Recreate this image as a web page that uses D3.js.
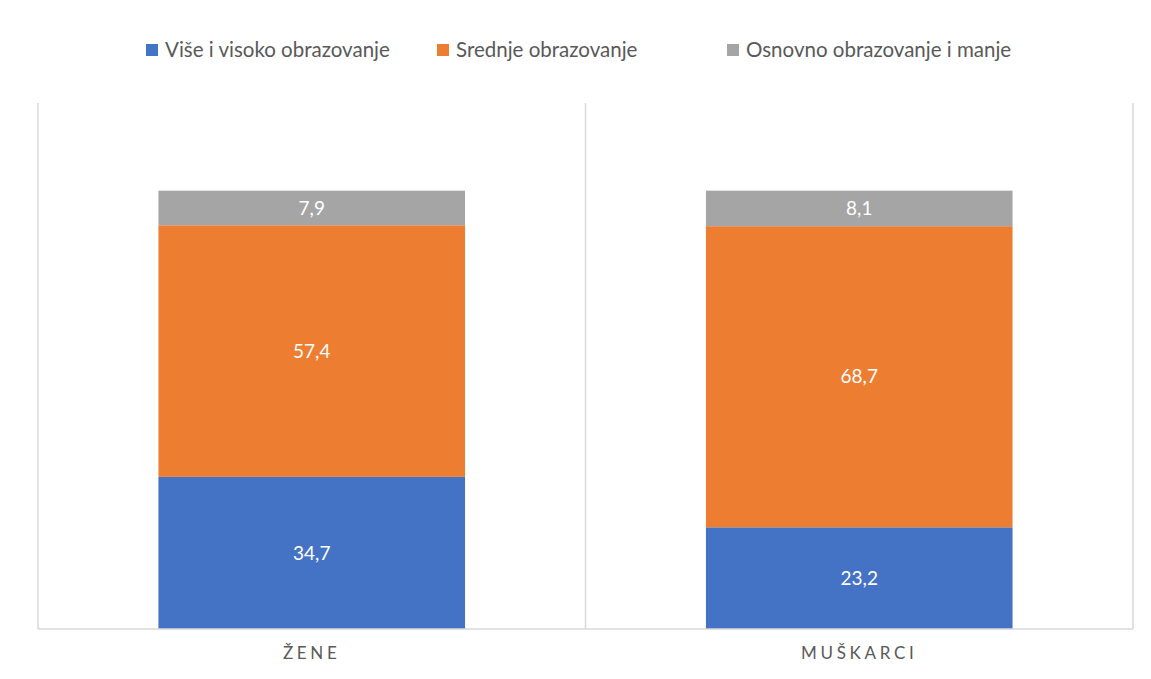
<!DOCTYPE html>
<html>
<head>
<meta charset="utf-8">
<script src="https://cdn.jsdelivr.net/npm/d3@7"></script>
<style>
  body { margin: 0; background: #fff; }
  text { font-family: Lato, "Open Sans", sans-serif; }
</style>
</head>
<body>
<svg id="chart" width="1151" height="679"></svg>
<script>
// data
var categories = ["ŽENE", "MUŠKARCI"];
var series = ["Više i visoko obrazovanje", "Srednje obrazovanje", "Osnovno obrazovanje i manje"];
var visoko = [34.7, 23.2];
var srednje = [57.4, 68.7];
var osnovno = [7.9, 8.1];
var colors = ["#4472C4", "#ED7D31", "#A5A5A5"];

var svg = d3.select("#chart");

var pLeft = 38, pRight = 1133, pTop = 103, pBottom = 629;

var x = d3.scaleBand()
    .domain(categories)
    .range([pLeft, pRight])
    .paddingInner(0.44)
    .paddingOuter(0.22);

var xOuter = d3.scaleBand()
    .domain(categories)
    .range([pLeft, pRight]);

var y = d3.scaleLinear()
    .domain([0, 120])
    .range([pBottom, pTop]);

// build stacked rows
var rows = categories.map(function(c, i) {
    return { cat: c, v0: visoko[i], v1: srednje[i], v2: osnovno[i] };
});
var stack = d3.stack().keys(["v0", "v1", "v2"]);
var layers = stack(rows);

// separators
var seps = categories.map(function(c) { return xOuter(c); }).concat([pRight]);
svg.selectAll(".sep")
    .data(seps)
    .enter()
    .append("line")
    .attr("class", "sep")
    .attr("x1", d => d)
    .attr("x2", d => d)
    .attr("y1", pTop)
    .attr("y2", pBottom)
    .attr("stroke", "#d9d9d9")
    .attr("stroke-width", 1.5);

// bars
var g = svg.selectAll(".layer")
    .data(layers)
    .enter()
    .append("g")
    .attr("class", "layer")
    .attr("fill", (d, i) => colors[i]);

g.selectAll("rect")
    .data(d => d)
    .enter()
    .append("rect")
    .attr("x", d => x(d.data.cat))
    .attr("width", x.bandwidth())
    .attr("y", d => y(d[1]))
    .attr("height", d => y(d[0]) - y(d[1]));

// labels
g.selectAll(".lbl")
    .data(d => d.map(function(p) { return { p: p, v: p[1] - p[0] }; }))
    .enter()
    .append("text")
    .attr("class", "lbl")
    .attr("x", d => x(d.p.data.cat) + x.bandwidth() / 2)
    .attr("y", d => (y(d.p[0]) + y(d.p[1])) / 2)
    .attr("dy", "0.35em")
    .attr("text-anchor", "middle")
    .attr("fill", "#ffffff")
    .style("font-size", "19px")
    .text(d => d3.format(".1f")(d.v).replace(".", ","));

// x axis
var ax = d3.axisBottom(x).tickSize(0).tickPadding(18);
var axg = svg.append("g")
    .attr("transform", "translate(0," + pBottom + ")")
    .call(ax);
axg.select(".domain")
    .attr("d", "M" + pLeft + ",0H" + pRight)
    .attr("stroke", "#d9d9d9")
    .attr("stroke-width", 1.5);
axg.selectAll("text")
    .attr("fill", "#595959")
    .style("font-size", "17px")
    .style("letter-spacing", "3.7px")
    .style("font-family", "Lato, sans-serif");

// legend
var legX = [146, 437, 727];
var leg = svg.selectAll(".leg")
    .data(series)
    .enter()
    .append("g")
    .attr("class", "leg")
    .attr("transform", (d, i) => "translate(" + legX[i] + ",50)");
leg.append("rect")
    .attr("x", 0)
    .attr("y", -6)
    .attr("width", 12)
    .attr("height", 12)
    .attr("fill", (d, i) => colors[i]);
leg.append("text")
    .attr("x", 19)
    .attr("y", 0)
    .attr("dy", "0.35em")
    .attr("fill", "#595959")
    .style("font-size", "20.5px")
    .text(d => d);
</script>
</body>
</html>
